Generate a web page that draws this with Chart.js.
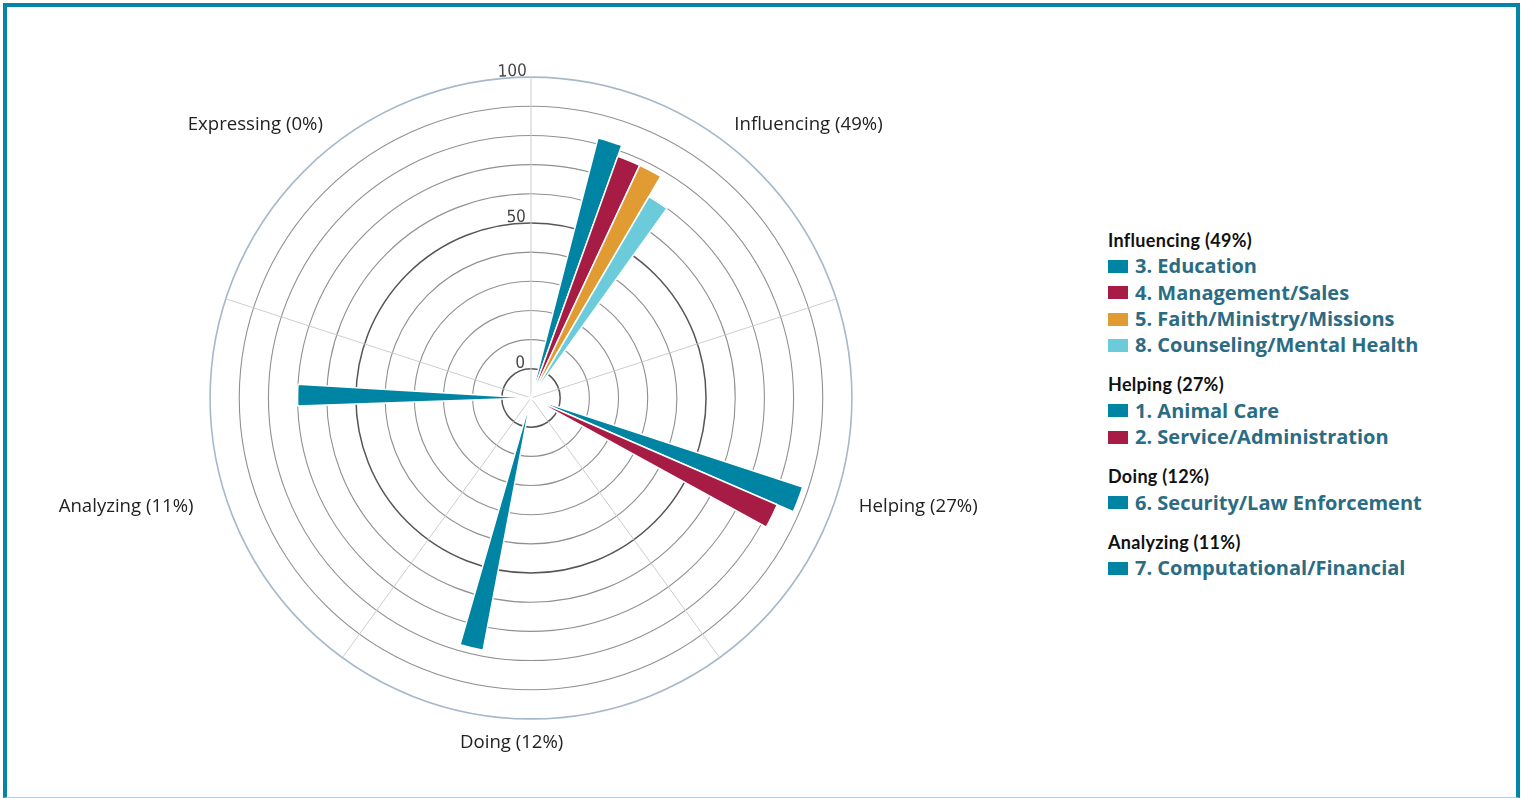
<!DOCTYPE html>
<html>
<head>
<meta charset="utf-8">
<script src="https://cdn.jsdelivr.net/npm/chart.js"></script>
<style>
  html, body { margin: 0; padding: 0; background: #fff; }
  body { width: 1526px; height: 798px; position: relative; overflow: hidden; }
  #frame { position: absolute; left: 3px; top: 3px; width: 1517px; height: 795px; box-sizing: border-box;
           border: 4px solid #0585a6; border-bottom: 1px solid #a9d4e1; }
  #wrap { position: absolute; left: 0; top: 0; width: 1062px; height: 798px; }
  #legend { position: absolute; left: 1108px; top: 227px; }
  .group + .group { margin-top: 13px; }
  .head { font: 700 18px Lato, "Open Sans", sans-serif; color: #111; line-height: 26.3px; height: 26.3px; letter-spacing: .3px; white-space: nowrap; }
  .item { font: 700 20px "Open Sans", sans-serif; color: #2b6c83; line-height: 26.3px; height: 26.3px; display: flex; align-items: center; white-space: nowrap; }
  .sw { width: 20px; height: 13px; margin-right: 7px; flex: none; }
</style>
</head>
<body>
<div id="wrap"><canvas id="careerChart"></canvas></div>
<div id="legend"></div>
<div id="frame"></div>
<script>
// sectors clockwise from the top
const sectorNames = ['Influencing', 'Helping', 'Doing', 'Analyzing', 'Expressing'];
const sectorShares = [49, 27, 12, 11, 0];

const careerNames = ['3. Education', '4. Management/Sales', '5. Faith/Ministry/Missions', '8. Counseling/Mental Health',
                     '1. Animal Care', '2. Service/Administration', '6. Security/Law Enforcement', '7. Computational/Financial'];
const careerSector = [0, 0, 0, 0, 1, 1, 2, 3];
const careerScores = [82, 78, 78, 70, 88, 82, 78, 70];

const tickLabels = [0, 50, 100];

const palette = ['#0084a3', '#a61c45', '#e09b33', '#6ccbdb'];
const rMin = -10, rMax = 100;

// layout of the wedges (degrees)
const sectorAngle = 72;
const barAngle = 5.3;
const firstBarOffset = [14.45, 36.15, 46.75, 52.05, 0];
const labelNudge = [2, 3, -8, -5, -3];   // + leading spaces, - trailing spaces
const labelPadding = [0, 0, 8, 0, 0];
const tickFont = '"Liberation Sans Narrow", "DejaVu Sans Condensed", sans-serif';

const sectorLabels = sectorNames.map((s, i) => s + ' (' + sectorShares[i] + '%)');

// build slices: spacer, bars..., spacer per sector
const slotValues = [], slotAngles = [], slotColors = [], slotBorders = [], slotLabels = [];
sectorNames.forEach((s, si) => {
  const members = careerNames.map((_, i) => i).filter(i => careerSector[i] === si);
  let used = 0;
  if (members.length) {
    slotValues.push(rMin); slotAngles.push(firstBarOffset[si]); slotColors.push('rgba(0,0,0,0)'); slotBorders.push(0); slotLabels.push('');
    used += firstBarOffset[si];
    members.forEach((ci, k) => {
      slotValues.push(careerScores[ci]); slotAngles.push(barAngle); slotColors.push(palette[k]); slotBorders.push(1.5);
      slotLabels.push(careerNames[ci]);
      used += barAngle;
    });
  }
  slotValues.push(rMin); slotAngles.push(sectorAngle - used); slotColors.push('rgba(0,0,0,0)'); slotBorders.push(0); slotLabels.push('');
});

function nudge(label, i) {
  const n = labelNudge[i];
  return n > 0 ? ' '.repeat(n) + label : label + ' '.repeat(-n);
}

const pointLabelOpts = (color) => ({
  display: true,
  centerPointLabels: true,
  padding: ctx => labelPadding[ctx.index],
  color: color,
  font: { family: '"Open Sans", sans-serif', size: 18.6, lineHeight: 0.73 },
  callback: nudge
});

const chart = new Chart(document.getElementById('careerChart'), {
  type: 'polarArea',
  data: {
    labels: slotLabels,
    datasets: [{
      data: slotValues,
      backgroundColor: slotColors,
      borderColor: '#ffffff',
      borderWidth: slotBorders,
      angle: ctx => slotAngles[ctx.dataIndex]
    }]
  },
  options: {
    responsive: true,
    maintainAspectRatio: false,
    animation: false,
    layout: { padding: { top: 58, bottom: 38, left: 0, right: 0 } },
    plugins: { legend: { display: false }, tooltip: { enabled: false } },
    scales: {
      r: {
        type: 'radialLinear',
        min: rMin, max: rMax,
        startAngle: 0,
        labels: sectorLabels,
        ticks: { stepSize: 10, display: true, color: 'rgba(0,0,0,0)', showLabelBackdrop: false, backdropPadding: 0,
                 font: { size: 17, family: tickFont } },
        grid: {
          circular: true,
          color: ctx => {
            const v = ctx.tick.value;
            if (v === 100) return '#a7b8ca';
            if (v === 0 || v === 50) return '#555555';
            return '#909090';
          },
          lineWidth: ctx => {
            const v = ctx.tick.value;
            if (v === rMin) return 0;
            if (v === 100) return 1.6;
            if (v === 0 || v === 50) return 1.5;
            return 1.1;
          }
        },
        angleLines: { display: true, color: '#cdcdcd', lineWidth: 1 },
        pointLabels: pointLabelOpts('#222222')
      },
      rt: {
        type: 'radialLinear',
        min: rMin - 1.9, max: rMax - 1.9,
        startAngle: -1.6,
        labels: sectorLabels,
        afterBuildTicks: s => { s.ticks = tickLabels.map(v => ({ value: v })); },
        ticks: { display: true, color: '#444444', showLabelBackdrop: false, backdropPadding: 0,
                 font: { size: 17, family: tickFont }, callback: v => v + '    ' },
        grid: { display: false },
        angleLines: { display: false },
        pointLabels: pointLabelOpts('rgba(0,0,0,0)')
      }
    }
  }
});

// grouped legend
const legend = document.getElementById('legend');
sectorNames.forEach((s, si) => {
  const members = careerNames.map((_, i) => i).filter(i => careerSector[i] === si);
  if (!members.length) return;
  const g = document.createElement('div');
  g.className = 'group';
  let html = '<div class="head">' + sectorLabels[si] + '</div>';
  members.forEach((ci, k) => {
    html += '<div class="item"><span class="sw" style="background:' + palette[k] + '"></span>' + careerNames[ci] + '</div>';
  });
  g.innerHTML = html;
  legend.appendChild(g);
});
</script>
</body>
</html>
